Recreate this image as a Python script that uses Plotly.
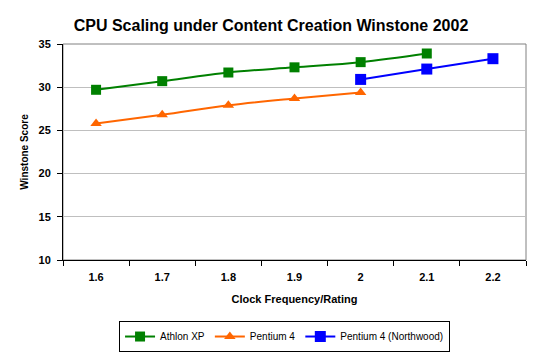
import plotly.graph_objects as go

categories = ["1.6", "1.7", "1.8", "1.9", "2", "2.1", "2.2"]
athlon_x = ["1.6", "1.7", "1.8", "1.9", "2", "2.1"]
athlon_y = [29.7, 30.7, 31.7, 32.3, 32.9, 33.9]
p4_x = ["1.6", "1.7", "1.8", "1.9", "2"]
p4_y = [25.8, 26.8, 27.9, 28.7, 29.4]
nw_x = ["2", "2.1", "2.2"]
nw_y = [30.9, 32.1, 33.3]

FONT = "Arial, Liberation Sans, sans-serif"

fig = go.Figure()
fig.add_trace(go.Scatter(x=athlon_x, y=athlon_y, name="Athlon XP", mode="lines+markers",
                         line=dict(color="#008000", width=2, shape="spline"),
                         marker=dict(symbol="square", size=10, color="#008000")))
fig.add_trace(go.Scatter(x=p4_x, y=p4_y, name="Pentium 4", mode="lines+markers",
                         line=dict(color="#FF6600", width=2, shape="spline"),
                         marker=dict(symbol="triangle-up", size=10, color="#FF6600")))
fig.add_trace(go.Scatter(x=nw_x, y=nw_y, name="Pentium 4 (Northwood)", mode="lines+markers",
                         line=dict(color="#0000FF", width=2, shape="spline"),
                         marker=dict(symbol="square", size=11, color="#0000FF")))

fig.update_layout(
    width=542, height=352,
    margin=dict(l=63, r=16, t=44, b=92),
    paper_bgcolor="white", plot_bgcolor="white",
    font=dict(family=FONT, color="black", size=11),
    title=dict(text="<b>CPU Scaling under Content Creation Winstone 2002</b>",
               x=0.5, xanchor="center", y=0.928, yanchor="middle",
               font=dict(size=16, family=FONT, color="black")),
    showlegend=True,
    legend=dict(orientation="h", x=0.525, xanchor="center", xref="container",
                y=0.088, yanchor="top", yref="container",
                bordercolor="black", borderwidth=1, bgcolor="white",
                font=dict(size=10, family=FONT), itemwidth=30,
                tracegroupgap=0),
    xaxis=dict(type="category", categoryorder="array", categoryarray=categories,
               range=[-0.5, 6.5], tickson="boundaries", ticks="outside", ticklen=5,
               tickcolor="black", showline=True, linecolor="black", linewidth=1,
               showgrid=False, zeroline=False, automargin=False, ticklabelstandoff=7,
               tickfont=dict(size=11, family=FONT, color="black", weight="bold"),
               title=dict(text="<b>Clock Frequency/Rating</b>", font=dict(size=11, family=FONT), standoff=13)),
    yaxis=dict(range=[10, 35], dtick=5, ticks="outside", ticklen=5, tickcolor="black",
               showline=True, linecolor="black", linewidth=1, automargin=False,
               ticklabelstandoff=4,
               showgrid=True, gridcolor="#BFBFBF", gridwidth=1, zeroline=False,
               tickfont=dict(size=11, family=FONT, color="black", weight="bold"),
               title=dict(text="<b>Winstone Score</b>", font=dict(size=10, family=FONT), standoff=8)),
    shapes=[dict(type="rect", xref="paper", yref="paper", x0=0, y0=0, x1=1, y1=1,
                 line=dict(color="#808080", width=1), layer="below")],
)

fig.write_html("out.html")
